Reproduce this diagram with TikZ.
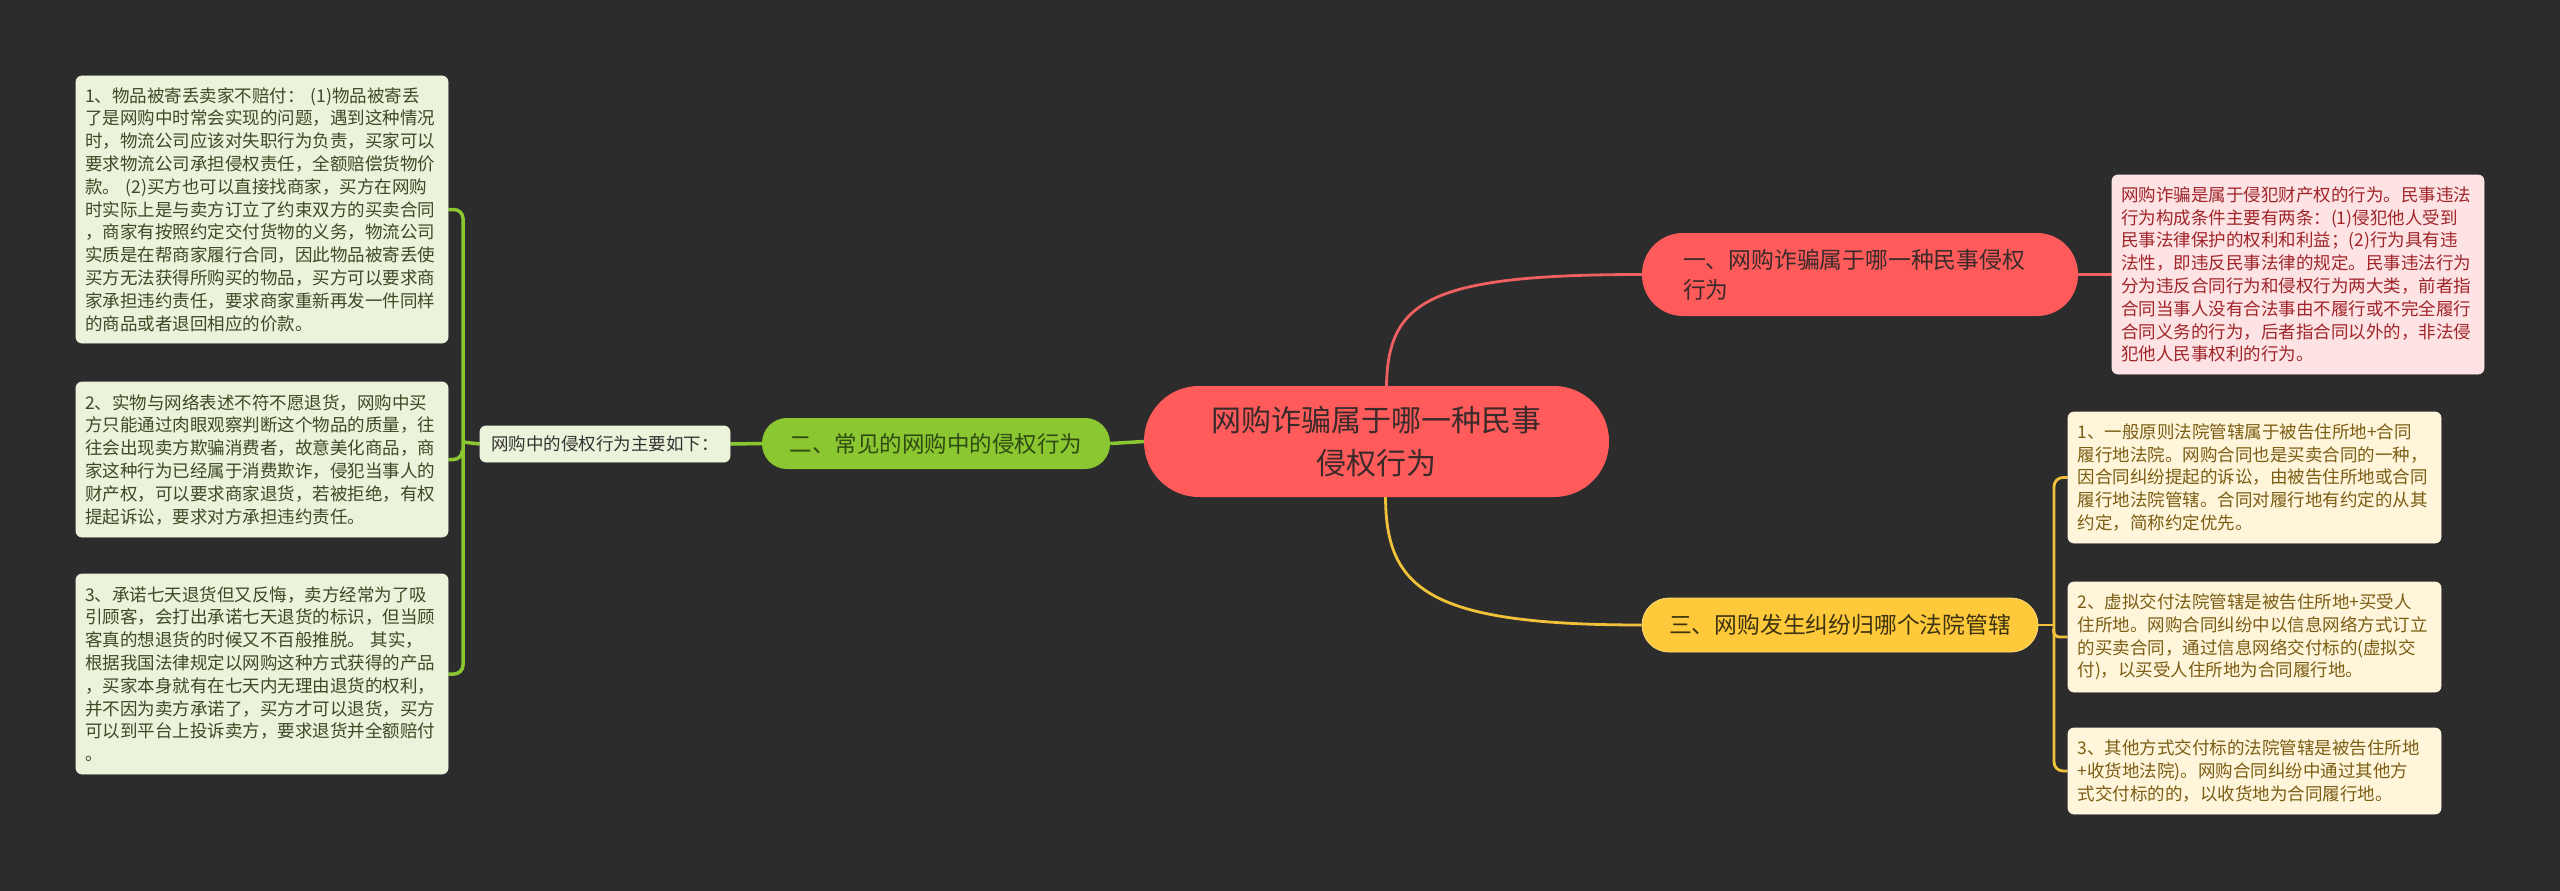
\documentclass[tikz,border=0pt]{standalone}
\usepackage{fontspec}
\setmainfont{Noto Sans CJK SC}
\usetikzlibrary{positioning}
\definecolor{bgc}{HTML}{2C2C2C}
\definecolor{redfill}{HTML}{FF5B5B}
\definecolor{redtext}{HTML}{3A2A2A}
\definecolor{redline}{HTML}{F06060}
\definecolor{greenfill}{HTML}{8AC731}
\definecolor{greentext}{HTML}{2F4A12}
\definecolor{lgfill}{HTML}{EBF3DA}
\definecolor{lgtext}{HTML}{3C4A25}
\definecolor{rdfill}{HTML}{FDE3E3}
\definecolor{rdtext}{HTML}{A0252A}
\definecolor{yfill}{HTML}{FFC93C}
\definecolor{ytext}{HTML}{3D3310}
\definecolor{ydfill}{HTML}{FFF5DA}
\definecolor{ydtext}{HTML}{7B5D14}
\definecolor{yline}{HTML}{F2C13A}
\pgfdeclarelayer{bgfill}
\pgfdeclarelayer{edges}
\pgfsetlayers{bgfill,edges,main}
\tikzset{
  detail/.style={rounded corners=6pt, inner xsep=9pt, inner ysep=0pt, align=left,
    text width=354pt, font=\fontsize{17.5}{22.8}\selectfont},
  lbox/.style={detail, fill=lgfill, draw=lgfill!80!white, line width=0.8pt, text=lgtext, minimum width=372pt},
  rbox/.style={detail, fill=rdfill, draw=rdfill!80!white, line width=0.8pt, text=rdtext, minimum width=372pt},
  ybox/.style={detail, fill=ydfill, draw=ydfill!80!white, line width=0.8pt, text=ydtext, minimum width=373pt},
  gcon/.style={draw=greenfill, line width=3.5pt},
  rcon/.style={draw=redline, line width=2.8pt},
  ycon/.style={draw=yline, line width=2.8pt},
}
\begin{document}
\begin{tikzpicture}[x=1pt,y=-1pt]
\begin{pgfonlayer}{bgfill}
\fill[bgc] (0,0) rectangle (2560,891);
\end{pgfonlayer}
\useasboundingbox (0,0) rectangle (2560,891);

% central node
\node[fill=redfill, rounded corners=55pt, minimum width=465pt, minimum height=111pt,
  inner sep=0pt, align=center, text=redtext, font=\fontsize{30}{43}\selectfont]
  (c) at (1376.5,441.5) {网购诈骗属于哪一种民事\\侵权行为};

% branch 1 (red)
\node[fill=redfill, rounded corners=41pt, minimum width=436pt, minimum height=83pt,
  inner xsep=41pt, inner ysep=0pt, text width=354pt, align=left, text=redtext,
  font=\fontsize{22.8}{30}\selectfont]
  (r1) at (1860,274.5) {一、网购诈骗属于哪一种民事侵权\\行为};

% branch 2 (green)
\node[fill=greenfill, rounded corners=25pt, minimum width=348pt, minimum height=51pt,
  inner sep=0pt, text=greentext, font=\fontsize{22.5}{27}\selectfont]
  (g1) at (936,443.5) {二、常见的网购中的侵权行为};

% branch 3 (yellow)
\node[fill=yfill, draw=yfill!70!white, line width=0.8pt, rounded corners=27pt,
  minimum width=396pt, minimum height=54pt, inner sep=0pt, text=ytext,
  font=\fontsize{22.8}{27}\selectfont]
  (y0) at (1840,625) {三、网购发生纠纷归哪个法院管辖};

% label
\node[fill=lgfill, draw=lgfill!80!white, line width=0.8pt, rounded corners=6pt,
  minimum width=250pt, minimum height=36pt, inner sep=0pt, text=black!80,
  font=\fontsize{17.5}{21}\selectfont]
  (lbl) at (605,444) {网购中的侵权行为主要如下：};

% left detail boxes
\node[lbox, minimum height=267pt] (ld1) at (262,209.5) {1、物品被寄丢卖家不赔付： (1)物品被寄丢\\了是网购中时常会实现的问题，遇到这种情况\\时，物流公司应该对失职行为负责，买家可以\\要求物流公司承担侵权责任，全额赔偿货物价\\款。 (2)买方也可以直接找商家，买方在网购\\时实际上是与卖方订立了约束双方的买卖合同\\，商家有按照约定交付货物的义务，物流公司\\实质是在帮商家履行合同，因此物品被寄丢使\\买方无法获得所购买的物品，买方可以要求商\\家承担违约责任，要求商家重新再发一件同样\\的商品或者退回相应的价款。};
\node[lbox, minimum height=155pt] (ld2) at (262,459.5) {2、实物与网络表述不符不愿退货，网购中买\\方只能通过肉眼观察判断这个物品的质量，往\\往会出现卖方欺骗消费者，故意美化商品，商\\家这种行为已经属于消费欺诈，侵犯当事人的\\财产权，可以要求商家退货，若被拒绝，有权\\提起诉讼，要求对方承担违约责任。};
\node[lbox, minimum height=200pt] (ld3) at (262,674) {3、承诺七天退货但又反悔，卖方经常为了吸\\引顾客，会打出承诺七天退货的标识，但当顾\\客真的想退货的时候又不百般推脱。 其实，\\根据我国法律规定以网购这种方式获得的产品\\，买家本身就有在七天内无理由退货的权利，\\并不因为卖方承诺了，买方才可以退货，买方\\可以到平台上投诉卖方，要求退货并全额赔付\\。};

% red detail
\node[rbox, minimum height=199pt] (rd) at (2298,274.5) {网购诈骗是属于侵犯财产权的行为。民事违法\\行为构成条件主要有两条：(1)侵犯他人受到\\民事法律保护的权利和利益；(2)行为具有违\\法性，即违反民事法律的规定。民事违法行为\\分为违反合同行为和侵权行为两大类，前者指\\合同当事人没有合法事由不履行或不完全履行\\合同义务的行为，后者指合同以外的，非法侵\\犯他人民事权利的行为。};

% yellow details
\node[ybox, minimum height=131pt] (yd1) at (2254.5,477.5) {1、一般原则法院管辖属于被告住所地+合同\\履行地法院。网购合同也是买卖合同的一种，\\因合同纠纷提起的诉讼，由被告住所地或合同\\履行地法院管辖。合同对履行地有约定的从其\\约定，简称约定优先。};
\node[ybox, minimum height=110pt] (yd2) at (2254.5,637) {2、虚拟交付法院管辖是被告住所地+买受人\\住所地。网购合同纠纷中以信息网络方式订立\\的买卖合同，通过信息网络交付标的(虚拟交\\付)，以买受人住所地为合同履行地。};
\node[ybox, minimum height=86pt] (yd3) at (2254.5,771) {3、其他方式交付标的法院管辖是被告住所地\\+收货地法院)。网购合同纠纷中通过其他方\\式交付标的的，以收货地为合同履行地。};

\coordinate (lfork) at (463,442);
\coordinate (yfork) at (2054,625);

\begin{pgfonlayer}{edges}
\draw[rcon] ([xshift=10pt]c.north) .. controls (1388,300) and (1430,274.5) .. (r1.west);
\draw[ycon] ([xshift=9pt]c.south) .. controls (1386,590) and (1430,625) .. (y0.west);
\draw[gcon] (c.west) -- (g1.east);
\draw[gcon] (g1.west) -- (lbl.east);
\draw[gcon] (lbl.west) -- (lfork);
\draw[gcon, rounded corners=9pt] (ld1.east) -| (lfork) |- (ld3.east);
\draw[gcon, rounded corners=9pt] (ld2.east) -- ++(14,0) -- ++(0,-8);
\draw[rcon] (r1.east) -- (rd.west);
\draw[ycon] (y0.east) -- (yfork);
\draw[ycon, rounded corners=9pt] (yd1.west) -| (yfork) |- (yd3.west);
\draw[ycon, rounded corners=6pt] (yd2.west) -- ++(-14,0) -- ++(0,-8);
\end{pgfonlayer}
\end{tikzpicture}
\end{document}
